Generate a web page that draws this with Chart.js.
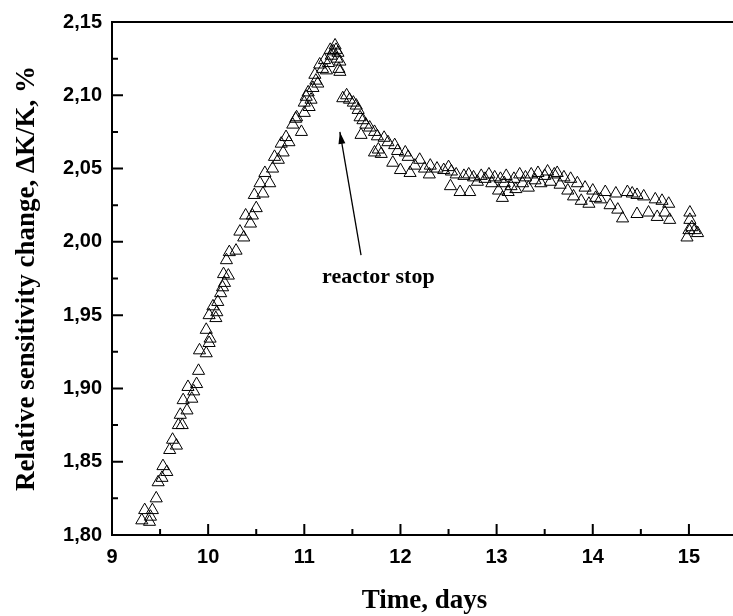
<!DOCTYPE html>
<html><head><meta charset="utf-8">
<script src="https://cdn.jsdelivr.net/npm/chart.js@4/dist/chart.umd.min.js"></script>
<style>html,body{margin:0;padding:0;background:#fff;overflow:hidden;}#wrap{width:745px;height:616px;}</style>
</head><body><div id="wrap"><canvas id="c" width="745" height="616"></canvas></div>
<script>
// Growth while the reactor runs
const riseDays = [9.31,9.39,9.34,9.42,9.40,9.46,9.48,9.52,9.53,9.57,9.60,9.63,9.67,9.69,9.71,9.73,9.74,9.78,9.79,9.83,9.85,9.88,9.90,9.91,9.98,9.98,10.01,10.02,10.01,10.05,10.08,10.09,10.10,10.13,10.15,10.17,10.16,10.21,10.19,10.22,10.29,10.37,10.33,10.44,10.39,10.46,10.50,10.48,10.57,10.54,10.64,10.59,10.67,10.69,10.73,10.78,10.76,10.84,10.81,10.88,10.97,10.91,10.92,11.00,11.00,11.02,11.04,11.05,11.07,11.09,11.11,11.12,11.14,11.16,11.19,11.21,11.23,11.25,11.27,11.28,11.30,11.32,11.33,11.34,11.35,11.36,11.37,11.37];
const riseValues = [1.810,1.809,1.817,1.817,1.8125,1.825,1.836,1.839,1.847,1.843,1.858,1.865,1.861,1.875,1.882,1.875,1.892,1.885,1.901,1.893,1.898,1.903,1.912,1.926,1.924,1.940,1.931,1.934,1.950,1.956,1.948,1.952,1.959,1.965,1.969,1.972,1.978,1.977,1.9875,1.993,1.994,2.003,2.007,2.0125,2.018,2.018,2.023,2.032,2.033,2.040,2.040,2.047,2.050,2.058,2.056,2.061,2.067,2.068,2.0715,2.080,2.075,2.084,2.085,2.088,2.095,2.099,2.102,2.092,2.097,2.105,2.114,2.110,2.108,2.121,2.118,2.124,2.117,2.122,2.131,2.127,2.130,2.134,2.131,2.125,2.129,2.118,2.123,2.116];
// Relaxation after the reactor stop
const decayDays = [11.40,11.44,11.47,11.51,11.54,11.56,11.58,11.61,11.64,11.59,11.68,11.73,11.76,11.83,11.73,11.77,11.80,11.87,11.94,11.92,11.97,12.00,12.05,12.08,12.10,12.15,12.20,12.25,12.30,12.31,12.38,12.45,12.50,12.53,12.52,12.58,12.62,12.66,12.71,12.72,12.76,12.80,12.84,12.88,12.92,12.95,12.98,13.02,13.04,13.06,13.08,13.10,13.12,13.15,13.18,13.20,13.24,13.27,13.30,13.33,13.36,13.40,13.43,13.46,13.50,13.53,13.56,13.60,13.63,13.66,13.70,13.74,13.77,13.80,13.84,13.88,13.92,13.96,14.00,14.03,14.08,14.13,14.18,14.24,14.26,14.31,14.36,14.41,14.46,14.46,14.53,14.58,14.65,14.67,14.72,14.75,14.79,14.80,15.01,15.01,15.03,15.06,15.09,14.98,15.00];
const decayValues = [2.098,2.100,2.097,2.095,2.093,2.090,2.085,2.083,2.080,2.073,2.078,2.075,2.072,2.071,2.061,2.063,2.060,2.068,2.066,2.054,2.062,2.049,2.061,2.058,2.047,2.052,2.056,2.050,2.046,2.052,2.050,2.049,2.051,2.048,2.038,2.046,2.034,2.045,2.046,2.034,2.044,2.041,2.045,2.043,2.046,2.040,2.044,2.035,2.043,2.030,2.040,2.045,2.034,2.038,2.043,2.036,2.046,2.040,2.044,2.037,2.046,2.042,2.047,2.040,2.045,2.048,2.041,2.046,2.047,2.039,2.044,2.035,2.043,2.031,2.040,2.028,2.037,2.026,2.035,2.030,2.029,2.034,2.025,2.033,2.022,2.016,2.034,2.033,2.032,2.019,2.031,2.020,2.029,2.017,2.028,2.020,2.026,2.015,2.020,2.015,2.010,2.008,2.006,2.003,2.008];

const xTickValues = [9,10,11,12,13,14,15];
const yTickValues = [1.80,1.85,1.90,1.95,2.00,2.05,2.10,2.15];
const xTitle = 'Time, days';
const yTitle = 'Relative sensitivity change, \u0394K/K, %';
const noteText = 'reactor stop';
const noteArrowTail = {x:11.59, y:1.991};
const noteArrowHead = {x:11.37, y:2.075};
const noteLabel = {x:11.77, y:1.976};

const points = [];
riseDays.forEach((d,i)=>points.push({x:d,y:riseValues[i]}));
decayDays.forEach((d,i)=>points.push({x:d,y:decayValues[i]}));

const framePlugin = {
  id:'frame',
  afterDraw(chart){
    const ctx = chart.ctx, a = chart.chartArea, xs = chart.scales.x, ys = chart.scales.y;
    ctx.save();
    ctx.strokeStyle = '#000';
    ctx.lineWidth = 2;
    ctx.beginPath();
    ctx.moveTo(a.left, a.top); ctx.lineTo(a.right, a.top); ctx.lineTo(a.right, a.bottom);
    ctx.stroke();
    ctx.beginPath();
    xTickValues.forEach(v=>{
      const p = xs.getPixelForValue(v);
      ctx.moveTo(p, a.bottom); ctx.lineTo(p, a.bottom-11);
      if (v+0.5 < xs.max) { const m = xs.getPixelForValue(v+0.5); ctx.moveTo(m, a.bottom); ctx.lineTo(m, a.bottom-6); }
    });
    yTickValues.forEach(v=>{
      const p = ys.getPixelForValue(v);
      ctx.moveTo(a.left, p); ctx.lineTo(a.left+11, p);
      if (v+0.025 < ys.max) { const m = ys.getPixelForValue(v+0.025); ctx.moveTo(a.left, m); ctx.lineTo(a.left+6, m); }
    });
    ctx.stroke();
    // annotation arrow
    const tx = xs.getPixelForValue(noteArrowTail.x), ty = ys.getPixelForValue(noteArrowTail.y);
    const hx = xs.getPixelForValue(noteArrowHead.x), hy = ys.getPixelForValue(noteArrowHead.y);
    ctx.lineWidth = 1.3;
    ctx.beginPath(); ctx.moveTo(tx,ty); ctx.lineTo(hx,hy); ctx.stroke();
    const ang = Math.atan2(hy-ty, hx-tx), L = 12, W = 3.5;
    ctx.fillStyle = '#000';
    ctx.beginPath();
    ctx.moveTo(hx,hy);
    ctx.lineTo(hx - L*Math.cos(ang) + W*Math.sin(ang), hy - L*Math.sin(ang) - W*Math.cos(ang));
    ctx.lineTo(hx - L*Math.cos(ang) - W*Math.sin(ang), hy - L*Math.sin(ang) + W*Math.cos(ang));
    ctx.closePath(); ctx.fill();
    ctx.font = 'bold 22px "Liberation Serif", "Times New Roman", serif';
    ctx.textAlign = 'center'; ctx.textBaseline = 'middle';
    ctx.fillText(noteText, xs.getPixelForValue(noteLabel.x), ys.getPixelForValue(noteLabel.y));
    ctx.restore();
  }
};

const tickFont = {family:'"Liberation Sans", Arial, sans-serif', weight:'bold', size:20};
const titleFont = {family:'"Liberation Serif", "Times New Roman", serif', weight:'bold', size:27, lineHeight:1.1};

new Chart(document.getElementById('c'), {
  type:'scatter',
  data:{datasets:[{
    data: points,
    pointStyle:'triangle',
    pointRadius:7,
    pointHoverRadius:7,
    pointBorderWidth:1,
    borderColor:'#000',
    backgroundColor:'rgba(255,255,255,0)',
    showLine:false
  }]},
  options:{
    responsive:false,
    animation:false,
    events:[],
    layout:{padding:{left:8,top:22,right:4,bottom:0}},
    plugins:{legend:{display:false},tooltip:{enabled:false}},
    scales:{
      x:{
        type:'linear', min:9, max:15.5,
        grid:{display:false, drawTicks:false},
        border:{display:true, color:'#000', width:2},
        afterBuildTicks:s=>{ s.ticks = xTickValues.map(v=>({value:v})); },
        afterFit:s=>{ s.height = 81; },
        ticks:{font:tickFont, color:'#000', padding:10, maxRotation:0, autoSkip:false, callback:v=>String(v)},
        title:{display:true, text:xTitle, font:titleFont, color:'#000', padding:{top:0,bottom:0}}
      },
      y:{
        type:'linear', min:1.80, max:2.15,
        grid:{display:false, drawTicks:false},
        border:{display:true, color:'#000', width:2},
        afterBuildTicks:s=>{ s.ticks = yTickValues.map(v=>({value:v})); },
        afterFit:s=>{ s.width = 104; },
        ticks:{font:tickFont, color:'#000', padding:10, autoSkip:false, callback:v=>v.toFixed(2).replace('.',',')},
        title:{display:true, text:yTitle, font:titleFont, color:'#000', padding:{top:4,bottom:0}}
      }
    }
  },
  plugins:[framePlugin]
});
</script>
</body></html>
